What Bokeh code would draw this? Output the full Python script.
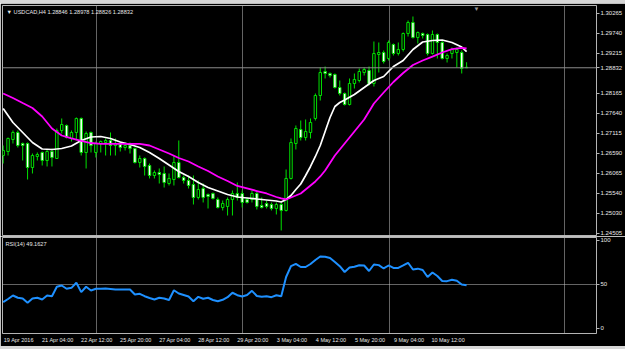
from bokeh.plotting import figure
from bokeh.layouts import column
from bokeh.models import Range1d, FixedTicker, Span, Label, ColumnDataSource, Div
from bokeh.embed import file_html
from bokeh.resources import INLINE

symbol = "USDCAD,H4"

bars = list(range(96))
opens = [1.26529, 1.26634, 1.26949, 1.27133, 1.26844, 1.26844, 1.26214, 1.26503, 1.26608, 1.26398,
         1.26634, 1.26451, 1.27186, 1.27317, 1.26976, 1.27133, 1.27501, 1.26608, 1.27133, 1.26608,
         1.26844, 1.26871, 1.26923, 1.26792, 1.26818, 1.26739, 1.26792, 1.26713, 1.26346, 1.26451,
         1.26267, 1.26004, 1.26083, 1.26057, 1.25794, 1.25899, 1.26346, 1.25952, 1.25873, 1.25768,
         1.25427, 1.25663, 1.25506, 1.25532, 1.25374, 1.25164, 1.25191, 1.25374, 1.25532, 1.25532,
         1.25374, 1.25374, 1.25532, 1.25217, 1.25269, 1.25243, 1.25138, 1.25243, 1.25086, 1.25926,
         1.26844, 1.27212, 1.27002, 1.27133, 1.27501, 1.28104, 1.28734, 1.28682, 1.28656, 1.28314,
         1.28157, 1.27868, 1.28419, 1.28498, 1.28708, 1.28761, 1.28419, 1.29181, 1.29233, 1.29076,
         1.29443, 1.29207, 1.29312, 1.29732, 1.30021, 1.29627, 1.29732, 1.29706, 1.29207, 1.29706,
         1.29496, 1.29076, 1.29207, 1.29233, 1.29233, 1.28846]
highs = [1.26792, 1.27002, 1.27186, 1.27186, 1.26871, 1.26871, 1.26582, 1.26608, 1.26634, 1.26687,
         1.26713, 1.27238, 1.27501, 1.27343, 1.27186, 1.27527, 1.27527, 1.27159, 1.27159, 1.26897,
         1.26923, 1.26976, 1.27133, 1.26976, 1.26897, 1.26871, 1.26871, 1.26739, 1.26529, 1.26477,
         1.26319, 1.26136, 1.26188, 1.26241, 1.26057, 1.26529, 1.26923, 1.26004, 1.26004, 1.26004,
         1.25873, 1.25794, 1.25532, 1.25558, 1.25427, 1.25348, 1.25427, 1.25611, 1.25821, 1.25611,
         1.25427, 1.25611, 1.25584, 1.25427, 1.25348, 1.25296, 1.25296, 1.25296, 1.26162, 1.26976,
         1.27317, 1.27448, 1.27474, 1.27501, 1.28157, 1.28839, 1.28866, 1.28708, 1.28682, 1.28498,
         1.28183, 1.28551, 1.28682, 1.28813, 1.28839, 1.28866, 1.29522, 1.29496, 1.29286, 1.29548,
         1.29469, 1.29496, 1.29758, 1.30073, 1.30178, 1.29784, 1.29758, 1.29732, 1.29811, 1.29732,
         1.29548, 1.29207, 1.29364, 1.29364, 1.29286, 1.28978]
lows = [1.26319, 1.26529, 1.26844, 1.26739, 1.26398, 1.25899, 1.26057, 1.26398, 1.26267, 1.26241,
        1.26241, 1.26451, 1.27107, 1.26976, 1.26897, 1.26923, 1.26529, 1.26188, 1.26608, 1.26477,
        1.26608, 1.26529, 1.26529, 1.26529, 1.26634, 1.26661, 1.26582, 1.26319, 1.26214, 1.26004,
        1.25926, 1.25926, 1.25794, 1.25689, 1.25742, 1.25742, 1.25926, 1.25794, 1.25663, 1.25243,
        1.25374, 1.25296, 1.25138, 1.25374, 1.25138, 1.25086, 1.24954, 1.24954, 1.25348, 1.25164,
        1.25269, 1.25296, 1.25112, 1.25138, 1.25138, 1.25086, 1.24981, 1.24561, 1.25059, 1.25899,
        1.26687, 1.26923, 1.26923, 1.26976, 1.27448, 1.27973, 1.28551, 1.28577, 1.28288, 1.28104,
        1.27842, 1.27842, 1.28288, 1.28446, 1.28629, 1.28367, 1.28341, 1.28708, 1.28944, 1.29023,
        1.29154, 1.29154, 1.29259, 1.29653, 1.29601, 1.29469, 1.29601, 1.29154, 1.29181, 1.29076,
        1.29049, 1.28971, 1.29076, 1.28839, 1.28682, 1.28826]
closes = [1.26661, 1.26976, 1.27133, 1.26792, 1.26792, 1.26214, 1.26529, 1.26556, 1.26398, 1.26634,
          1.26477, 1.27186, 1.27343, 1.27002, 1.27133, 1.27501, 1.26608, 1.27107, 1.26792, 1.26844,
          1.26897, 1.26923, 1.26792, 1.26844, 1.26739, 1.26792, 1.26713, 1.26346, 1.26451, 1.26241,
          1.26004, 1.26083, 1.26031, 1.25821, 1.25926, 1.26346, 1.25952, 1.25873, 1.25742, 1.25427,
          1.25637, 1.25427, 1.25453, 1.25401, 1.25164, 1.25269, 1.25374, 1.25532, 1.25427, 1.25296,
          1.25296, 1.25532, 1.25191, 1.25164, 1.25191, 1.25138, 1.25243, 1.25086, 1.25926, 1.26871,
          1.27238, 1.27002, 1.27159, 1.27396, 1.28104, 1.28708, 1.28682, 1.28629, 1.28314, 1.28157,
          1.27868, 1.28419, 1.28524, 1.28734, 1.28787, 1.28419, 1.29207, 1.29233, 1.28997, 1.29496,
          1.29207, 1.29312, 1.29732, 1.30021, 1.29627, 1.29758, 1.29679, 1.29207, 1.29706, 1.29496,
          1.29076, 1.29154, 1.29312, 1.29312, 1.28813, 1.28832]

fast_ma_bars = [0, 2, 4, 6, 8, 10, 12, 14, 16, 18, 20, 22, 24, 26, 28, 30, 32, 34, 36, 38, 40, 42, 44, 46,
                48, 50, 52, 54, 56, 57, 58, 59, 60, 61, 62, 63, 64, 65, 66, 67, 68, 69, 70, 72, 74, 76,
                78, 80, 82, 84, 86, 88, 90, 92, 94, 95]
fast_ma = [1.27763, 1.27396, 1.27133, 1.26871, 1.26700, 1.26687, 1.26713, 1.26779, 1.26923, 1.27015,
           1.27028, 1.26976, 1.26884, 1.26818, 1.26739, 1.26608, 1.26451, 1.26280, 1.26109, 1.25978,
           1.25821, 1.25689, 1.25597, 1.25506, 1.25440, 1.25414, 1.25387, 1.25361, 1.25335, 1.25309,
           1.25374, 1.25479, 1.25637, 1.25781, 1.26004, 1.26241, 1.26503, 1.26792, 1.27159, 1.27527,
           1.27816, 1.27921, 1.27986, 1.28131, 1.28314, 1.28498, 1.28603, 1.28866, 1.29023, 1.29312,
           1.29509, 1.29548, 1.29561, 1.29496, 1.29377, 1.29259]
slow_ma_bars = [0, 2, 4, 6, 8, 10, 12, 14, 16, 18, 20, 24, 28, 30, 32, 34, 36, 38, 40, 42, 44, 46, 48,
                50, 52, 54, 56, 57, 58, 59, 60, 61, 62, 63, 64, 65, 66, 68, 70, 72, 74, 76, 78, 80, 82,
                84, 86, 88, 90, 92, 94, 95]
slow_ma = [1.28157, 1.28039, 1.27907, 1.27776, 1.27553, 1.27238, 1.27054, 1.26976, 1.26910, 1.26857,
           1.26836, 1.26836, 1.26836, 1.26792, 1.26687, 1.26582, 1.26464, 1.26372, 1.26241, 1.26122,
           1.25978, 1.25860, 1.25729, 1.25663, 1.25597, 1.25532, 1.25440, 1.25401, 1.25374, 1.25427,
           1.25479, 1.25532, 1.25637, 1.25742, 1.25847, 1.25978, 1.26136, 1.26529, 1.26844, 1.27159,
           1.27474, 1.27894, 1.28183, 1.28459, 1.28695, 1.28905, 1.29023, 1.29123, 1.29233, 1.29320,
           1.29356, 1.29338]

rsi = [29.9, 33.5, 37.5, 34.9, 34.1, 29.2, 34.1, 34.9, 33.0, 37.5,
       36.7, 47.4, 48.9, 45.1, 46.2, 51.9, 41.3, 47.4, 43.2, 45.1,
       45.2, 45.5, 44.9, 44.3, 44.3, 44.3, 44.3, 38.6, 39.4, 36.7,
       34.7, 33.0, 34.9, 34.1, 32.4, 43.5, 39.8, 38.1, 36.4, 31.0,
       36.0, 33.8, 34.9, 32.4, 31.0, 32.6, 35.6, 40.6, 37.8, 36.4,
       38.1, 42.8, 36.9, 36.1, 36.7, 35.6, 37.8, 36.7, 58.5, 70.8,
       73.5, 69.9, 69.9, 73.3, 77.8, 81.8, 81.5, 80.1, 75.6, 70.8,
       64.2, 69.3, 70.1, 71.8, 71.6, 65.3, 72.7, 72.0, 68.2, 71.6,
       68.8, 68.8, 71.6, 74.7, 67.0, 68.0, 66.5, 58.5, 63.6, 59.7,
       54.0, 53.8, 55.3, 54.2, 50.0, 49.1627]

time_label_bars = [0, 8, 16, 24, 32, 40, 48, 56, 64, 72, 80, 88]
time_labels = ["19 Apr 2016", "21 Apr 04:00", "22 Apr 12:00", "25 Apr 20:00", "27 Apr 04:00",
               "28 Apr 12:00", "29 Apr 20:00", "3 May 04:00", "4 May 12:00", "5 May 20:00",
               "9 May 04:00", "10 May 12:00"]
price_ticks = [1.30265, 1.29740, 1.29215, 1.28165, 1.27640, 1.27115,
               1.26590, 1.26065, 1.25540, 1.25015, 1.24490]
price_tick_labels = ["1.30265", "1.29740", "1.29215", "1.28165", "1.27640", "1.27115",
                     "1.26590", "1.26065", "1.25540", "1.25030", "1.24505"]
rsi_ticks = [0, 50, 100]
rsi_tick_labels = ["0", "50", "100"]
grid_bars = [19.1, 49.0, 79.1, 115.1]

BG = "#000000"
FG = "#e8e8e8"
FRAME = "#b4b4b4"
GRID = "#c8c8c8"
CANDLE = "#00e000"
FONT = "Liberation Sans"
FS = "6px"
LABEL_SHIFT = 3.2   # time labels are drawn starting at their bar (MT4 style)

x_range = Range1d(-0.14, 121.63)
y_range = Range1d(1.24429, 1.30467)


def style(fig):
    fig.outline_line_color = FRAME
    fig.outline_line_width = 1
    fig.yaxis.axis_line_color = None
    fig.yaxis.major_tick_out = 3
    fig.yaxis.major_tick_in = 0
    fig.yaxis.major_tick_line_color = FRAME
    fig.yaxis.minor_tick_line_color = None
    fig.yaxis.major_label_text_color = FG
    fig.yaxis.major_label_text_font = FONT
    fig.yaxis.major_label_text_font_size = FS
    fig.yaxis.major_label_standoff = 1
    fig.xgrid.ticker = FixedTicker(ticks=grid_bars)
    fig.xgrid.grid_line_color = GRID
    fig.xgrid.grid_line_dash = "1 1"
    fig.xgrid.grid_line_width = 1


p = figure(width=625, height=233, x_range=x_range, y_range=y_range,
           output_backend="svg", toolbar_location=None,
           background_fill_color=BG, border_fill_color=BG,
           min_border_left=2, min_border_right=28, min_border_top=2, min_border_bottom=1,
           y_axis_location="right", x_axis_location=None)
style(p)
p.ygrid.grid_line_color = None
bid = closes[-1]
all_price_ticks = price_ticks + [bid]
all_price_labels = price_tick_labels + [f"{bid:.5f}"]
p.yaxis.ticker = FixedTicker(ticks=all_price_ticks)
p.yaxis.major_label_overrides = dict(zip(all_price_ticks, all_price_labels))

tops = [max(o, c) for o, c in zip(opens, closes)]
bottoms = [min(o, c) for o, c in zip(opens, closes)]
fills = ["#000000" if c >= o else "#ffffff" for o, c in zip(opens, closes)]
src = ColumnDataSource(dict(x=bars, h=highs, l=lows, top=tops, bottom=bottoms, fill=fills))

p.segment("x", "h", "x", "l", source=src, line_color=CANDLE, line_width=1)
p.vbar(x="x", top="top", bottom="bottom", width=0.5, source=src,
       fill_color="fill", line_color=CANDLE, line_width=1)
p.line(fast_ma_bars, fast_ma, line_color="#ffffff", line_width=1.7)
p.line(slow_ma_bars, slow_ma, line_color="#ff00ff", line_width=1.8)

p.add_layout(Span(location=bid, dimension="width", line_color="#8c8c8c", line_width=1))
p.add_layout(Label(x=x_range.start, y=y_range.end, x_offset=4, y_offset=-6,
                   text=f"\u25bc {symbol}  {opens[-1]:.5f} {highs[-1]:.5f} {lows[-1]:.5f} {closes[-1]:.5f}",
                   text_font=FONT, text_font_size="5.6px", text_color=FG, text_baseline="middle"))
p.add_layout(Label(x=bars[-1] + 2, y=y_range.end, text="\u25bc", text_font=FONT,
                   text_font_size="6px", text_color="#9a9a9a", text_baseline="top",
                   text_align="center"))

r = figure(width=625, height=110, x_range=x_range, y_range=Range1d(-5.7, 103.4),
           output_backend="svg", toolbar_location=None,
           background_fill_color=BG, border_fill_color=BG,
           min_border_left=2, min_border_right=28, min_border_top=1, min_border_bottom=13,
           y_axis_location="right")
style(r)
r.ygrid.ticker = FixedTicker(ticks=[50])
r.ygrid.grid_line_color = GRID
r.ygrid.grid_line_dash = "1 1"
r.yaxis.ticker = FixedTicker(ticks=rsi_ticks)
r.yaxis.major_label_overrides = dict(zip(rsi_ticks, rsi_tick_labels))
label_pos = [b + LABEL_SHIFT for b in time_label_bars]
r.xaxis.ticker = FixedTicker(ticks=label_pos)
r.xaxis.major_label_overrides = dict(zip(label_pos, time_labels))
r.xaxis.axis_line_color = None
r.xaxis.major_tick_out = 2
r.xaxis.major_tick_in = 0
r.xaxis.major_tick_line_color = None
r.xaxis.minor_tick_line_color = None
r.xaxis.major_label_text_color = FG
r.xaxis.major_label_text_font = FONT
r.xaxis.major_label_text_font_size = "5.5px"
r.xaxis.major_label_standoff = 1

r.line(bars, rsi, line_color="#1e90ff", line_width=2)
r.add_layout(Label(x=x_range.start, y=103.4, x_offset=3, y_offset=-6,
                   text=f"RSI(14) {rsi[-1]:.4f}", text_font=FONT, text_font_size="5.6px",
                   text_color=FG, text_baseline="middle"))

top_strip = Div(text="", width=625, height=3, margin=0, styles={"background-color": "#d6d6d6"})
bottom_strip = Div(text="", width=625, height=3, margin=0, styles={"background-color": "#d6d6d6"})

layout = column(top_strip, p, r, bottom_strip, spacing=0)
open("out.html", "w").write(file_html(layout, INLINE))
